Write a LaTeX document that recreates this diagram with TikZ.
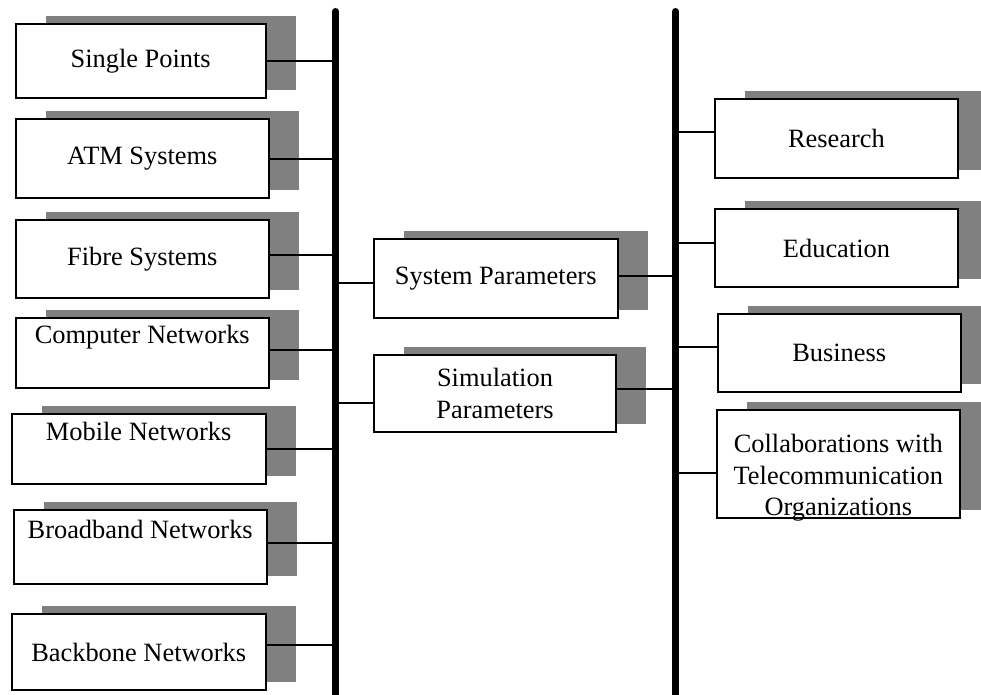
\documentclass[tikz,border=0pt]{standalone}
\usepackage{fontspec}
\setmainfont{Liberation Serif}
\usepackage{tikz}
\usetikzlibrary{shadows}
\tikzset{ para_box/.style = {rectangle, draw, line width=1pt, fill=white, align=center, inner sep=1pt,
    font=\fontsize{13.2}{15.8}\selectfont,
    general shadow={fill=gray, draw=none, shadow xshift=15pt, shadow yshift=4pt}} }
\tikzset{ bus_line/.style = {line width=3.5pt, line cap=round} }
\tikzset{ link/.style = {line width=0.9pt} }
% text moved off the middle of its box
\newcommand{\shiftbox}[2]{\raisebox{#1}[0pt][0pt]{\begin{tabular}{@{}c@{}}#2\end{tabular}}}

\begin{document}
\begin{tikzpicture}[x=0.5pt,y=-0.5pt]
        \clip (0,0) rectangle (981,695);
        \coordinate (lt) at (335.5,11.5);
        \coordinate (lb) at (335.5,705);
        \coordinate (rt) at (675.5,11.5);
        \coordinate (rb) at (675.5,705);
        % left column
        \node[para_box, minimum width=125pt, minimum height=37pt] (l1) at (140.7,61.3) {Single Points};
        \node[para_box, minimum width=126.6pt, minimum height=39.5pt] (l2) at (142.3,158.8) {ATM Systems};
        \node[para_box, minimum width=126.6pt, minimum height=39pt] (l3) at (142.3,259) {Fibre Systems};
        \node[para_box, minimum width=126.6pt, minimum height=34.8pt] (l4) at (142.3,353.2) {\shiftbox{5pt}{Computer Networks}};
        \node[para_box, minimum width=127pt, minimum height=34.8pt] (l5) at (138.7,449.2) {\shiftbox{4.6pt}{Mobile Networks}};
        \node[para_box, minimum width=126.5pt, minimum height=37pt] (l6) at (140.2,547.3) {\shiftbox{4.5pt}{Broadband Networks}};
        \node[para_box, minimum width=127pt, minimum height=37.8pt] (l7) at (138.7,652.2) {Backbone Networks};
        % middle
        \node[para_box, minimum width=122pt, minimum height=39.2pt] (m1) at (495.7,278.5) {System Parameters};
        \node[para_box, minimum width=121.3pt, minimum height=38.6pt] (m2) at (495,393.7) {Simulation\\Parameters};
        % right column
        \node[para_box, minimum width=121.5pt, minimum height=39.2pt] (r1) at (836.5,138.5) {Research};
        \node[para_box, minimum width=121.5pt, minimum height=39pt] (r2) at (836.5,248.3) {Education};
        \node[para_box, minimum width=121.5pt, minimum height=38.7pt] (r3) at (839.2,353) {Business};
        \node[para_box, minimum width=121.3pt, minimum height=54pt] (r4) at (838.3,464) {\shiftbox{-10pt}{Collaborations with\\Telecommunication\\Organizations}};
        % buses
        \draw[bus_line] (lt) -- (lb);
        \draw[bus_line] (rt) -- (rb);
        \draw[link] (l1.east) -- (l1.east -| lt);
        \draw[link] (l2.east) -- (l2.east -| lt);
        \draw[link] ([yshift=1.8pt]l3.east) -- ([yshift=1.8pt]l3.east -| lt);
        \draw[link] ([yshift=1.4pt]l4.east) -- ([yshift=1.4pt]l4.east -| lt);
        \draw[link] (l5.east) -- (l5.east -| lt);
        \draw[link] ([yshift=2pt]l6.east) -- ([yshift=2pt]l6.east -| lt);
        \draw[link] ([yshift=3.6pt]l7.east) -- ([yshift=3.6pt]l7.east -| lt);
        \draw[link] ([yshift=-2.1pt]m1.west -| lt) -- ([yshift=-2.1pt]m1.west);
        \draw[link] ([yshift=-4.8pt]m2.west -| lt) -- ([yshift=-4.8pt]m2.west);
        \draw[link] ([yshift=1.2pt]m1.east) -- ([yshift=1.2pt]m1.east -| rt);
        \draw[link] ([yshift=2.2pt]m2.east) -- ([yshift=2.2pt]m2.east -| rt);
        \draw[link] ([yshift=3.1pt]r1.west -| rt) -- ([yshift=3.1pt]r1.west);
        \draw[link] ([yshift=2.8pt]r2.west -| rt) -- ([yshift=2.8pt]r2.west);
        \draw[link] ([yshift=2.8pt]r3.west -| rt) -- ([yshift=2.8pt]r3.west);
        \draw[link] ([yshift=-4.6pt]r4.west -| rt) -- ([yshift=-4.6pt]r4.west);
\end{tikzpicture}
\end{document}
